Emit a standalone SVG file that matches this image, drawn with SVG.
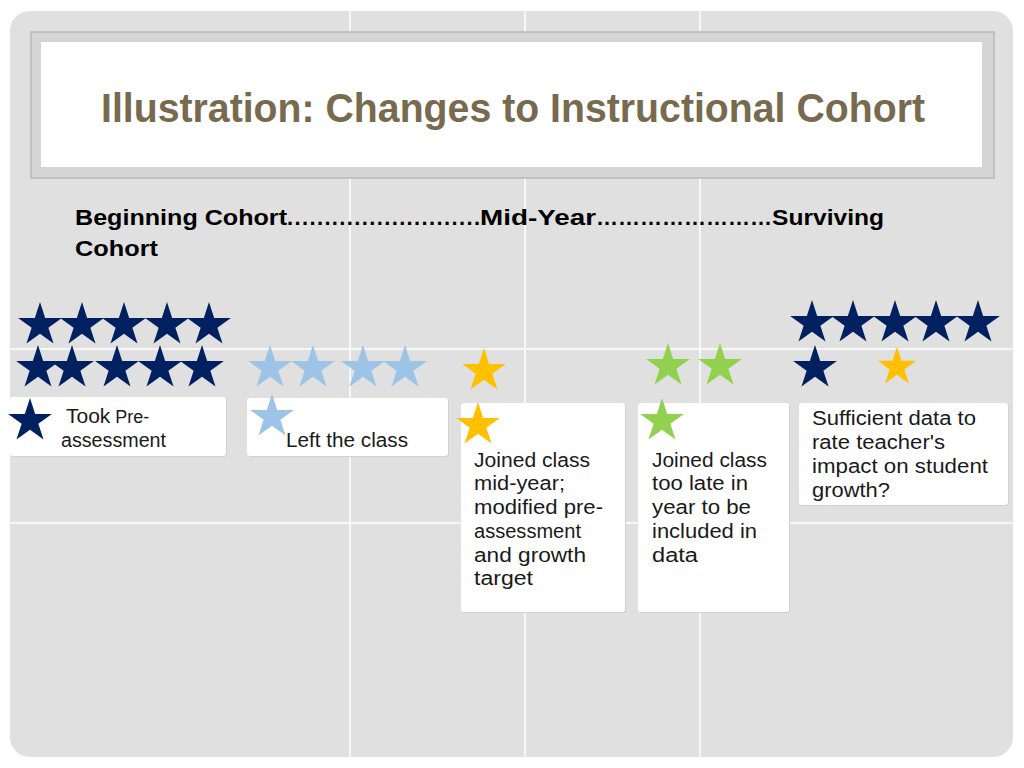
<svg xmlns="http://www.w3.org/2000/svg" xmlns:xlink="http://www.w3.org/1999/xlink" width="1024" height="768" viewBox="0 0 1024 768">
  <style>
    .txt { font-family: "Liberation Sans", Arial, sans-serif; font-size: 19.5px; fill: #1a1a1a; }
    .sub { font-family: "Liberation Sans", Arial, sans-serif; font-size: 22px; font-weight: bold; fill: #000; }
    .title { font-family: "Liberation Sans Narrow", "Liberation Sans", Arial, sans-serif; font-size: 41px; font-weight: bold; fill: #786a4e; }
    .box { fill: #ffffff; }
    .shadow { fill: #d2d2d2; }
    .grid { stroke: #ffffff; stroke-width: 1.5; }
    .navy { fill: #002060; }
    .lblue { fill: #9dc3e6; }
    .yellow { fill: #ffc000; }
    .green { fill: #92d050; }
  </style>
  <defs>
    <path id="star" d="M0,-23 L5.17,-7.11 L21.87,-7.11 L8.36,2.72 L13.52,18.61 L0,8.79 L-13.52,18.61 L-8.36,2.72 L-21.87,-7.11 L-5.17,-7.11 Z"/>
  </defs>

  <rect x="0" y="0" width="1024" height="768" fill="#ffffff"/>
  <rect x="10" y="11" width="1003" height="746" rx="20" ry="20" fill="#e0e0e0"/>
  <g id="grid">
    <line class="grid" x1="350" y1="11" x2="350" y2="757"/>
    <line class="grid" x1="525" y1="11" x2="525" y2="757"/>
    <line class="grid" x1="700" y1="11" x2="700" y2="757"/>
    <line class="grid" x1="10" y1="349" x2="1013" y2="349"/>
    <line class="grid" x1="10" y1="523" x2="1013" y2="523"/>
  </g>

  <g id="title">
    <rect x="31" y="32" width="963" height="146" fill="#d5d5d5" stroke="#b8b8b8" stroke-width="1.5"/>
    <rect x="41" y="42" width="941" height="125" fill="#ffffff"/>
    <text class="title" x="101" y="122" textLength="824" lengthAdjust="spacingAndGlyphs">Illustration: Changes to Instructional Cohort</text>
  </g>

  <g id="subtitle">
    <text class="sub" y="225">
      <tspan x="75" textLength="212" lengthAdjust="spacingAndGlyphs">Beginning Cohort</tspan><tspan x="287" textLength="193" lengthAdjust="spacing">..........................</tspan><tspan x="480" textLength="116" lengthAdjust="spacingAndGlyphs">Mid-Year</tspan><tspan x="596" textLength="176" lengthAdjust="spacingAndGlyphs">……………………</tspan><tspan x="772" textLength="112" lengthAdjust="spacingAndGlyphs">Surviving</tspan>
    </text>
    <text class="sub" x="75" y="256" textLength="83" lengthAdjust="spacingAndGlyphs">Cohort</text>
  </g>

  <g id="beginning-stars" class="navy">
    <use xlink:href="#star" href="#star" x="40" y="325"/>
    <use xlink:href="#star" href="#star" x="82" y="325"/>
    <use xlink:href="#star" href="#star" x="124" y="325"/>
    <use xlink:href="#star" href="#star" x="167" y="325"/>
    <use xlink:href="#star" href="#star" x="209" y="325"/>
    <use xlink:href="#star" href="#star" x="38" y="368"/>
    <use xlink:href="#star" href="#star" x="72" y="368"/>
    <use xlink:href="#star" href="#star" x="117" y="368"/>
    <use xlink:href="#star" href="#star" x="160" y="368"/>
    <use xlink:href="#star" href="#star" x="202" y="368"/>
  </g>
  <g id="left-stars" class="lblue">
    <use xlink:href="#star" href="#star" x="270" y="368"/>
    <use xlink:href="#star" href="#star" x="313" y="368"/>
    <use xlink:href="#star" href="#star" x="363" y="368"/>
    <use xlink:href="#star" href="#star" x="405" y="368"/>
  </g>
  <g id="midyear-stars">
    <use class="yellow" xlink:href="#star" href="#star" x="484" y="371"/>
    <use class="green" xlink:href="#star" href="#star" x="668" y="366"/>
    <use class="green" xlink:href="#star" href="#star" x="720" y="366"/>
  </g>
  <g id="surviving-stars">
    <use class="navy" xlink:href="#star" href="#star" x="812" y="323"/>
    <use class="navy" xlink:href="#star" href="#star" x="853" y="323"/>
    <use class="navy" xlink:href="#star" href="#star" x="895" y="323"/>
    <use class="navy" xlink:href="#star" href="#star" x="936" y="323"/>
    <use class="navy" xlink:href="#star" href="#star" x="978" y="323"/>
    <use class="navy" xlink:href="#star" href="#star" x="815" y="368"/>
    <g transform="translate(897,367) scale(0.88)"><use class="yellow" xlink:href="#star" href="#star"/></g>
  </g>

  <g id="connectors"></g>

  <g id="legend-took">
    <rect class="shadow" x="11" y="398" width="216" height="59" rx="3"/>
    <rect class="box" x="10" y="397" width="216" height="59" rx="3"/>
    <use class="navy" xlink:href="#star" href="#star" x="30" y="421"/>
    <text class="txt" y="423"><tspan x="66" font-size="21">Took</tspan><tspan font-size="18"> Pre-</tspan></text>
    <text class="txt" x="61" y="447" textLength="105" lengthAdjust="spacingAndGlyphs">assessment</text>
  </g>

  <g id="legend-left">
    <rect class="shadow" x="248" y="399" width="201" height="58" rx="3"/>
    <rect class="box" x="247" y="398" width="201" height="58" rx="3"/>
    <use class="lblue" xlink:href="#star" href="#star" x="272" y="417"/>
    <text class="txt" x="286" y="447" textLength="122" lengthAdjust="spacingAndGlyphs">Left the class</text>
  </g>

  <g id="legend-joined-mid">
    <rect class="shadow" x="462" y="404" width="164" height="209" rx="3"/>
    <rect class="box" x="461" y="403" width="164" height="209" rx="3"/>
    <use class="yellow" xlink:href="#star" href="#star" x="478" y="425"/>
    <text class="txt" x="474" y="467" textLength="116" lengthAdjust="spacingAndGlyphs">Joined class</text>
    <text class="txt" x="474" y="490" textLength="91" lengthAdjust="spacingAndGlyphs">mid-year;</text>
    <text class="txt" x="474" y="514" textLength="129" lengthAdjust="spacingAndGlyphs">modified pre-</text>
    <text class="txt" x="474" y="538" textLength="107" lengthAdjust="spacingAndGlyphs">assessment</text>
    <text class="txt" x="474" y="562" textLength="112" lengthAdjust="spacingAndGlyphs">and growth</text>
    <text class="txt" x="474" y="585" textLength="59" lengthAdjust="spacingAndGlyphs">target</text>
  </g>

  <g id="legend-joined-late">
    <rect class="shadow" x="639" y="404" width="151" height="209" rx="3"/>
    <rect class="box" x="638" y="403" width="151" height="209" rx="3"/>
    <use class="green" xlink:href="#star" href="#star" x="662" y="421"/>
    <text class="txt" x="652" y="467" textLength="115" lengthAdjust="spacingAndGlyphs">Joined class</text>
    <text class="txt" x="652" y="490" textLength="96" lengthAdjust="spacingAndGlyphs">too late in</text>
    <text class="txt" x="652" y="514" textLength="99" lengthAdjust="spacingAndGlyphs">year to be</text>
    <text class="txt" x="652" y="538" textLength="105" lengthAdjust="spacingAndGlyphs">included in</text>
    <text class="txt" x="652" y="562" textLength="46" lengthAdjust="spacingAndGlyphs">data</text>
  </g>

  <g id="legend-sufficient">
    <rect class="shadow" x="800" y="404" width="209" height="102" rx="3"/>
    <rect class="box" x="799" y="403" width="209" height="102" rx="3"/>
    <text class="txt" x="812" y="425" textLength="164" lengthAdjust="spacingAndGlyphs">Sufficient data to</text>
    <text class="txt" x="812" y="449" textLength="133" lengthAdjust="spacingAndGlyphs">rate teacher's</text>
    <text class="txt" x="812" y="473" textLength="176" lengthAdjust="spacingAndGlyphs">impact on student</text>
    <text class="txt" x="812" y="497" textLength="78" lengthAdjust="spacingAndGlyphs">growth?</text>
  </g>
</svg>
